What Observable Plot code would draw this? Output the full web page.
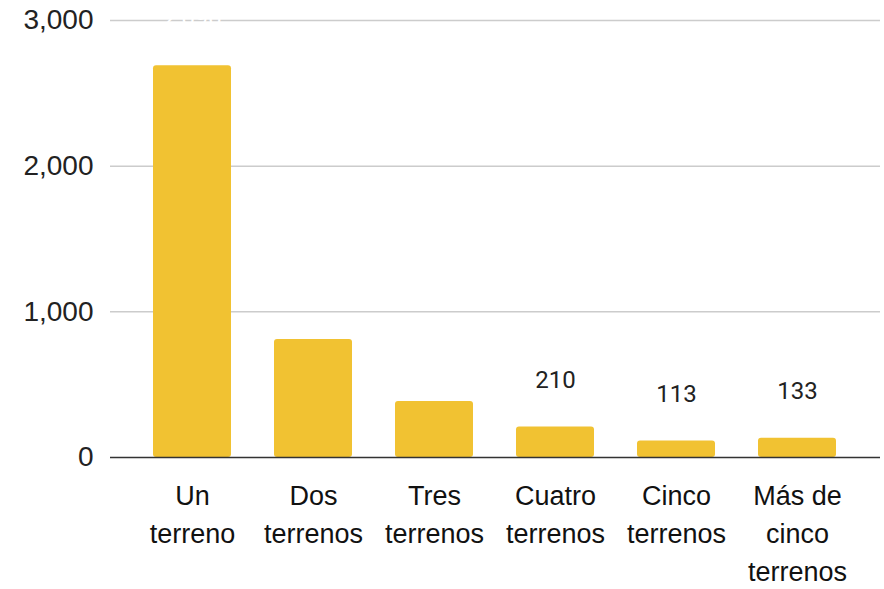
<!DOCTYPE html>
<html><head><meta charset="utf-8">
<script src="https://cdn.jsdelivr.net/npm/d3@7"></script>
<script src="https://cdn.jsdelivr.net/npm/@observablehq/plot@0.6"></script>
<style>body{margin:0;background:#fff;} svg{display:block;}</style>
</head><body><div id="chart"></div>
<script>
const categories = ["Un terreno","Dos terrenos","Tres terrenos","Cuatro terrenos","Cinco terrenos","Más de cinco terrenos"];
const tickLabels = ["Un\nterreno","Dos\nterrenos","Tres\nterrenos","Cuatro\nterrenos","Cinco\nterrenos","Más de\ncinco\nterrenos"];
const values = [2690, 810, 385, 210, 113, 133];
const labelVisible = [false, false, false, true, true, true];
const yTicks = [0, 1000, 2000, 3000];

const data = categories.map((c, i) => ({cat: c, value: values[i], tick: tickLabels[i], show: labelVisible[i]}));

const chart = Plot.plot({
  width: 884, height: 589,
  marginLeft: 110, marginRight: 4, marginTop: 20, marginBottom: 132,
  style: {background: "#fff", fontFamily: "'Liberation Sans', Arial, sans-serif"},
  x: {domain: categories, padding: 0.353, label: null},
  y: {domain: [0, 3000], label: null},
  marks: [
    Plot.ruleY(yTicks.filter(d => d > 0), {stroke: "#cccccc", strokeWidth: 1.5}),
    Plot.barY(data, {x: "cat", y: "value", fill: "#F1C232", rx: 3}),
    Plot.text(data, {x: "cat", y: "value", text: d => d3.format(",")(d.value), dy: -47,
      fill: d => d.show ? "#222" : "#fff", fontSize: 24, fontFamily: "Roboto, sans-serif", lineAnchor: "middle"}),
    Plot.ruleY([0], {stroke: "#333", strokeWidth: 1.5}),
    Plot.axisY({ticks: yTicks, tickFormat: d3.format(","), tickSize: 0, tickPadding: 17, fontSize: 28, label: null, fill: "#222"}),
    Plot.axisX({tickFormat: (d, i) => tickLabels[categories.indexOf(d)], tickSize: 0, tickPadding: 20, fontSize: 27, lineHeight: 1.42, label: null, fill: "#111"})
  ]
});
document.getElementById("chart").appendChild(chart);
</script></body></html>
